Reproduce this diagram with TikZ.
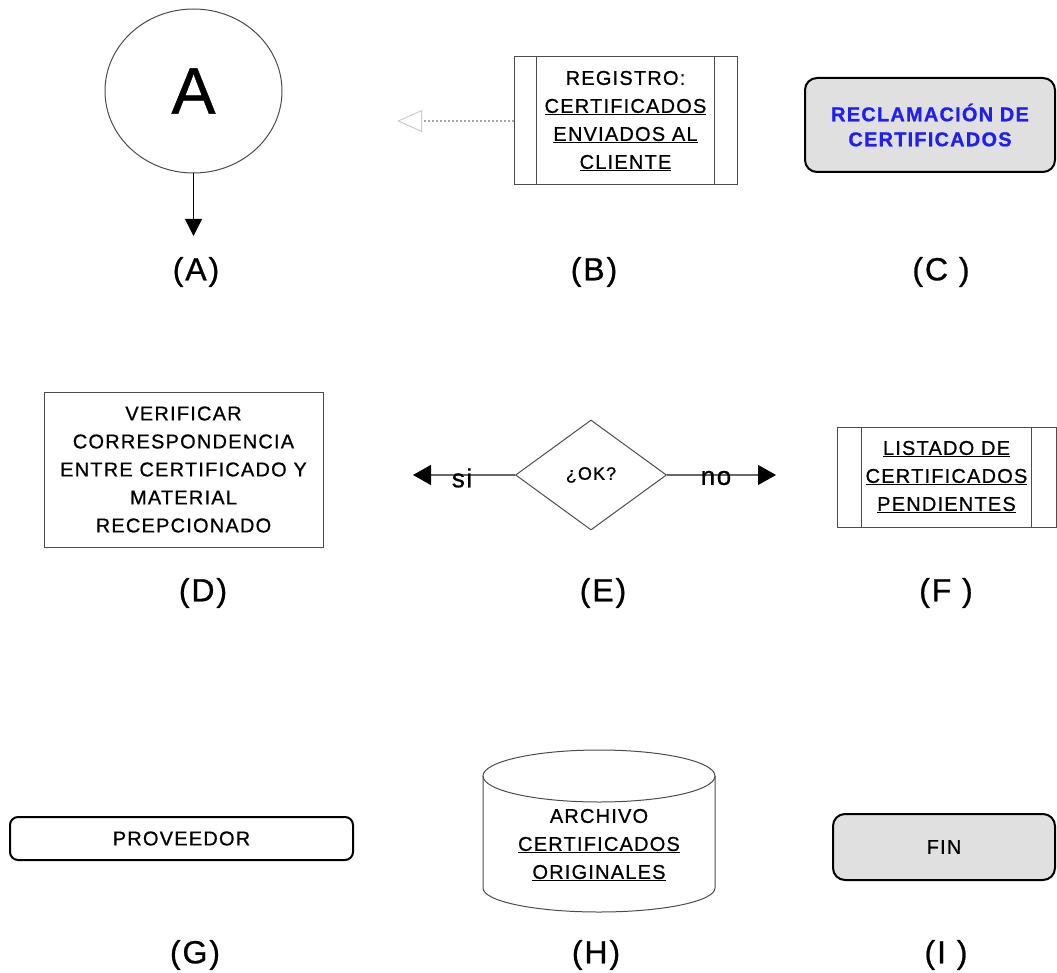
\documentclass[tikz,border=0pt]{standalone}
\usepackage{fontspec}
\setmainfont[LetterSpace=6,FakeBold=0.8]{Liberation Sans}
\usetikzlibrary{arrows.meta,positioning,shapes.geometric}
\definecolor{reclblue}{RGB}{30,30,245}
\definecolor{fillgray}{RGB}{224,224,224}

\begin{document}
\begin{tikzpicture}[x=1pt,y=-1pt,
  txt/.style={font=\fontsize{20}{28}\selectfont, align=center},
  tag/.style={font=\fontsize{32}{36}\selectfont},
  plain/.style={draw=black!70, line width=1pt, inner sep=0pt},
  term/.style={draw=black, line width=2pt, rounded corners=12pt, inner sep=0pt}]
  \useasboundingbox (0,0) rectangle (1057,973);

  % first row
  \node[ellipse, plain, minimum width=177, minimum height=164, font=\fontsize{66}{66}\selectfont] (a) at (193.5,91) {A};
  \coordinate (a end) at (193.5,236);
  \draw[line width=1pt, -{Triangle[length=17pt,width=17pt]}] (a) -- (a end);
  \node[tag] (a tag) at (196,272) {(A)};

  \node[plain, txt, minimum width=223, minimum height=128] (b) at (625.5,121) {REGISTRO:\\\underline{CERTIFICADOS}\\\underline{ENVIADOS AL}\\\underline{CLIENTE}};
  \draw[black!70, line width=1pt] ([xshift=23]b.north west) -- ([xshift=23]b.south west);
  \draw[black!70, line width=1pt] ([xshift=-23]b.north east) -- ([xshift=-23]b.south east);
  \coordinate (b end) at (397,121);
  \draw[dotted, gray!70, line width=2pt, -{Triangle[open, length=25pt, width=22pt, line width=1pt, color=gray!40]}] (b) -- (b end);
  \node[tag] (b tag) at (594,272) {(B)};

  \node[term, fill=fillgray, minimum width=250, minimum height=94, text=reclblue, align=center, font=\bfseries\fontsize{20}{25}\selectfont] (c) at (930,125) {RECLAMACIÓN DE\\CERTIFICADOS};
  \node[tag] (c tag) at (941,272) {(C )};

  % second row
  \node[plain, txt, minimum width=279, minimum height=155] (d) at (183.5,469.5) {VERIFICAR\\CORRESPONDENCIA\\ENTRE CERTIFICADO Y\\MATERIAL\\RECEPCIONADO};
  \node[tag] (d tag) at (203,593) {(D)};

  \node[diamond, plain, minimum width=151, minimum height=110, font=\fontsize{18}{18}\selectfont] (e) at (591,475) {¿OK?};
  \coordinate (e yes) at (413,475);
  \coordinate (e no) at (776,475);
  \draw[black!60, line width=1.2pt, -{Triangle[length=18pt,width=20pt,color=black]}] (e.west) -- (e yes);
  \draw[black!60, line width=1.2pt, -{Triangle[length=18pt,width=20pt,color=black]}] (e.east) -- (e no);
  \node[font=\fontsize{26}{26}\selectfont] (si) at (462,478) {si};
  \node[font=\fontsize{26}{26}\selectfont] (no) at (716,478) {no};
  \node[tag] (e tag) at (603,593) {(E)};

  \node[plain, txt, minimum width=219, minimum height=100] (f) at (946.5,477) {\underline{LISTADO DE}\\\underline{CERTIFICADOS}\\\underline{PENDIENTES}};
  \draw[black!70, line width=1pt] ([xshift=25]f.north west) -- ([xshift=25]f.south west);
  \draw[black!70, line width=1pt] ([xshift=-25]f.north east) -- ([xshift=-25]f.south east);
  \node[tag] (f tag) at (946,593) {(F )};

  % third row
  \node[term, rounded corners=8pt, minimum width=343, minimum height=43, font=\fontsize{20}{20}\selectfont] (g) at (181.5,838.5) {PROVEEDOR};
  \node[tag] (g tag) at (195,955) {(G)};

  \draw[black!70, line width=1pt] (599,776) ellipse [x radius=116pt, y radius=26pt];
  \draw[black!70, line width=1pt] (483,776) -- (483,888) arc[start angle=180, end angle=360, x radius=116pt, y radius=24pt] -- (715,776);
  \node[txt] (h) at (599,845) {ARCHIVO\\\underline{CERTIFICADOS}\\\underline{ORIGINALES}};
  \node[tag] (h tag) at (596,955) {(H)};

  \node[term, fill=fillgray, minimum width=222, minimum height=66, font=\fontsize{20}{20}\selectfont] (i) at (944,847) {FIN};
  \node[tag] (i tag) at (946,955) {(I )};
\end{tikzpicture}
\end{document}
